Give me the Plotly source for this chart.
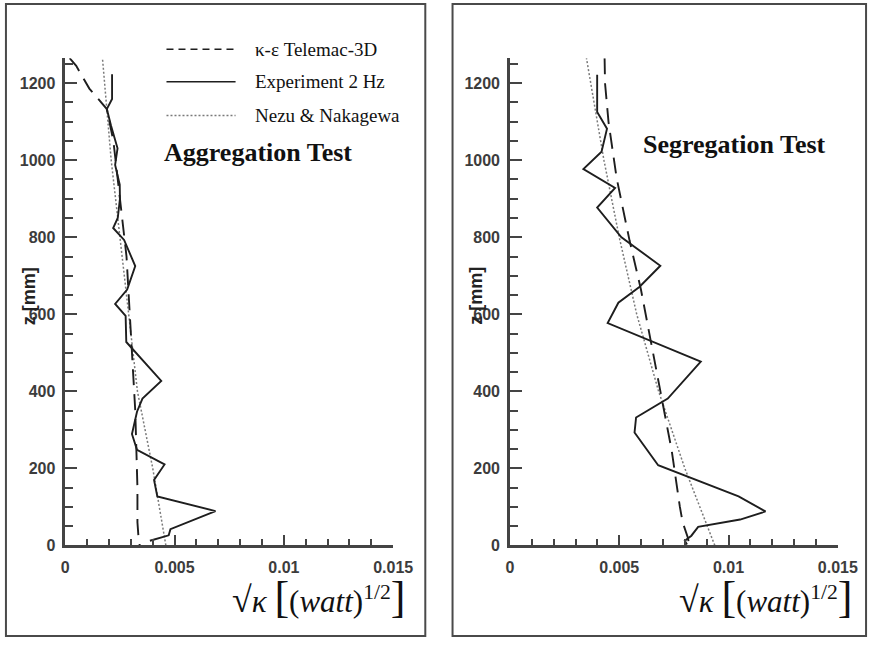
import plotly.graph_objects as go

W, H = 888, 649

# ---------------- data ----------------
# Aggregation test (left panel)
agg_exp_z = [1223, 1159, 1133, 1090, 1031, 988, 937, 900, 850, 824, 793, 725, 664, 627, 596, 528,
             427, 381, 347, 300, 289, 280, 248, 210, 170, 127, 89, 42, 26, 12]
agg_exp_k = [0.00214, 0.00214, 0.00190, 0.00209, 0.00239, 0.00228, 0.00249, 0.00250, 0.00240, 0.00219,
             0.00269, 0.00320, 0.00283, 0.00228, 0.00276, 0.00279,
             0.00439, 0.00353, 0.00328, 0.00310, 0.00305, 0.00310, 0.00328, 0.00454, 0.00406, 0.00421,
             0.00687, 0.00481, 0.00473, 0.00387]
agg_mod_z = [1265, 1245, 1225, 1205, 1186, 1133, 1050, 950, 850, 750, 650, 550, 450, 350, 250, 150, 60, 20, 8, 0]
agg_mod_k = [0.0002, 0.0005, 0.0007, 0.0009, 0.0011, 0.0019, 0.0022, 0.0024, 0.0026, 0.0028, 0.0029,
             0.0030, 0.0031, 0.0032, 0.00325, 0.0033, 0.0033, 0.00335, 0.0034, 0.0034]
agg_nez_z = [0, 200, 400, 600, 800, 1000, 1265]
agg_nez_k = [0.0046, 0.0040, 0.0033, 0.0029, 0.0025, 0.0021, 0.0017]

# Segregation test (right panel)
seg_exp_z = [1222, 1125, 1082, 1022, 977, 928, 877, 800, 726, 671, 630, 577, 477, 381, 332, 293, 208,
             127, 88, 67, 48, 25, 12, 2]
seg_exp_k = [0.00399, 0.00399, 0.00444, 0.00419, 0.00336, 0.00481, 0.00399, 0.00510, 0.00688, 0.00592,
             0.00496, 0.00447, 0.00873, 0.00722, 0.00577, 0.00570, 0.00678, 0.01046, 0.01169, 0.01053,
             0.00861, 0.00830, 0.00800, 0.00810]
seg_mod_z = [1265, 1200, 1099, 954, 852, 792, 665, 528, 400, 246, 101, 60, 20, 0]
seg_mod_k = [0.00433, 0.00435, 0.00451, 0.00488, 0.00525, 0.00547, 0.00599, 0.00644, 0.00688, 0.00740,
             0.00777, 0.00790, 0.00814, 0.00820]
seg_nez_z = [0, 200, 400, 600, 800, 1000, 1265]
seg_nez_k = [0.00937, 0.0080, 0.0068, 0.0058, 0.0050, 0.0043, 0.0035]

legend_names = ["\u03ba-\u03b5 Telemac-3D", "Experiment 2 Hz", "Nezu & Nakagewa"]
panel_titles = ["Aggregation Test", "Segregation Test"]
x_ticks = [0, 0.005, 0.01, 0.015]
y_ticks = [0, 200, 400, 600, 800, 1000, 1200]

# ---------------- helpers ----------------
def PX(px):
    return px / W

def PY(py):
    return 1 - py / H

SERIF = "Liberation Serif, Times New Roman, serif"
SANS = "Arial, Liberation Sans, sans-serif"

SOLID = dict(color="#1e1e1e", width=1.9)
DASHED = dict(color="#1e1e1e", width=1.9, dash="16px,9px")
DOTTED = dict(color="#7a7a7a", width=1.5, dash="2px,2px")

fig = go.Figure()

panels = [
    ("x", "y", agg_exp_z, agg_exp_k, agg_mod_z, agg_mod_k, agg_nez_z, agg_nez_k),
    ("x2", "y2", seg_exp_z, seg_exp_k, seg_mod_z, seg_mod_k, seg_nez_z, seg_nez_k),
]
for xa, ya, ez, ek, mz, mk, nz, nk in panels:
    fig.add_trace(go.Scatter(x=nk, y=nz, mode="lines", line=DOTTED, xaxis=xa, yaxis=ya,
                             name=legend_names[2], showlegend=False))
    fig.add_trace(go.Scatter(x=mk, y=mz, mode="lines", line=DASHED, xaxis=xa, yaxis=ya,
                             name=legend_names[0], showlegend=False))
    fig.add_trace(go.Scatter(x=ek, y=ez, mode="lines", line=SOLID, xaxis=xa, yaxis=ya,
                             name=legend_names[1], showlegend=False))

tickfont = dict(family=SANS, size=16, color="#3c3c3c", weight="bold")
axis_common = dict(showgrid=False, zeroline=False, showline=True, linecolor="#444",
                   linewidth=2.5, ticks="inside", tickcolor="#444", tickwidth=2,
                   tickfont=tickfont)

y_dom = [PY(553), PY(59)]
xdoms = [[PX(63), PX(400)], [PX(520), PX(857)]]

def xaxis_cfg(dom, anchor):
    return dict(domain=dom, range=[0, 0.015], tickvals=x_ticks, ticklen=11,
                minor=dict(dtick=0.001, ticks="inside", ticklen=7, tickcolor="#444", tickwidth=2),
                anchor=anchor, ticklabelstandoff=6, **axis_common)

def yaxis_cfg(anchor):
    return dict(domain=y_dom, range=[0, 1265], tickvals=y_ticks, ticklen=12,
                minor=dict(dtick=50, ticks="inside", ticklen=8, tickcolor="#444", tickwidth=2),
                anchor=anchor, ticklabelstandoff=4, **axis_common)

fig.update_layout(
    width=W, height=H, margin=dict(l=0, r=0, t=0, b=0),
    paper_bgcolor="white", plot_bgcolor="white", showlegend=False,
    xaxis=xaxis_cfg(xdoms[0], "y"),
    yaxis=yaxis_cfg("x"),
    xaxis2=xaxis_cfg(xdoms[1], "y2"),
    yaxis2=yaxis_cfg("x2"),
)

shapes = []
annotations = []
# panel frames
for x0, x1 in [(2, 433), (461, 886)]:
    shapes.append(dict(type="rect", xref="paper", yref="paper", x0=PX(x0), x1=PX(x1),
                       y0=PY(645), y1=PY(4), line=dict(color="#4a4a4a", width=2)))

# legend (left panel)
leg_styles = [dict(color="#1e1e1e", width=1.5, dash="7px,5px"),
              dict(color="#1e1e1e", width=1.5),
              dict(color="#7a7a7a", width=1.5, dash="2px,2px")]
for name, sty, py in zip(legend_names, leg_styles, [50, 83, 117]):
    shapes.append(dict(type="line", xref="paper", yref="paper", x0=PX(167), x1=PX(238),
                       y0=PY(py), y1=PY(py), line=sty))
    annotations.append(dict(xref="paper", yref="paper", x=PX(256), y=PY(py), text=name,
                            showarrow=False, xanchor="left", yanchor="middle",
                            font=dict(family=SERIF, size=19, color="#111")))

# panel titles
for title, cx, cy in [(panel_titles[0], 261, 155), (panel_titles[1], 751, 147)]:
    annotations.append(dict(xref="paper", yref="paper", x=PX(cx), y=PY(cy), text="<b>" + title + "</b>",
                            showarrow=False, xanchor="center", yanchor="middle",
                            font=dict(family=SERIF, size=26, color="#111")))

# axis titles
for cx in [26, 485]:
    annotations.append(dict(xref="paper", yref="paper", x=PX(cx), y=PY(300), text="<b>z [mm]</b>",
                            textangle=-90, showarrow=False, xanchor="center", yanchor="middle",
                            font=dict(family=SANS, size=18, color="#222")))

xtitle = ("<span style='font-size:36px'>\u221a</span><i>\u03ba</i> "
          "<span style='font-size:44px'>[</span>(<i>watt</i>)"
          "<sup>1/2</sup><span style='font-size:44px'>]</span>")
for cx in [324, 783]:
    annotations.append(dict(xref="paper", yref="paper", x=PX(cx), y=PY(606), text=xtitle,
                            showarrow=False, xanchor="center", yanchor="middle",
                            font=dict(family=SERIF, size=31, color="#111")))

fig.update_layout(shapes=shapes, annotations=annotations)
fig.write_html("out.html")
